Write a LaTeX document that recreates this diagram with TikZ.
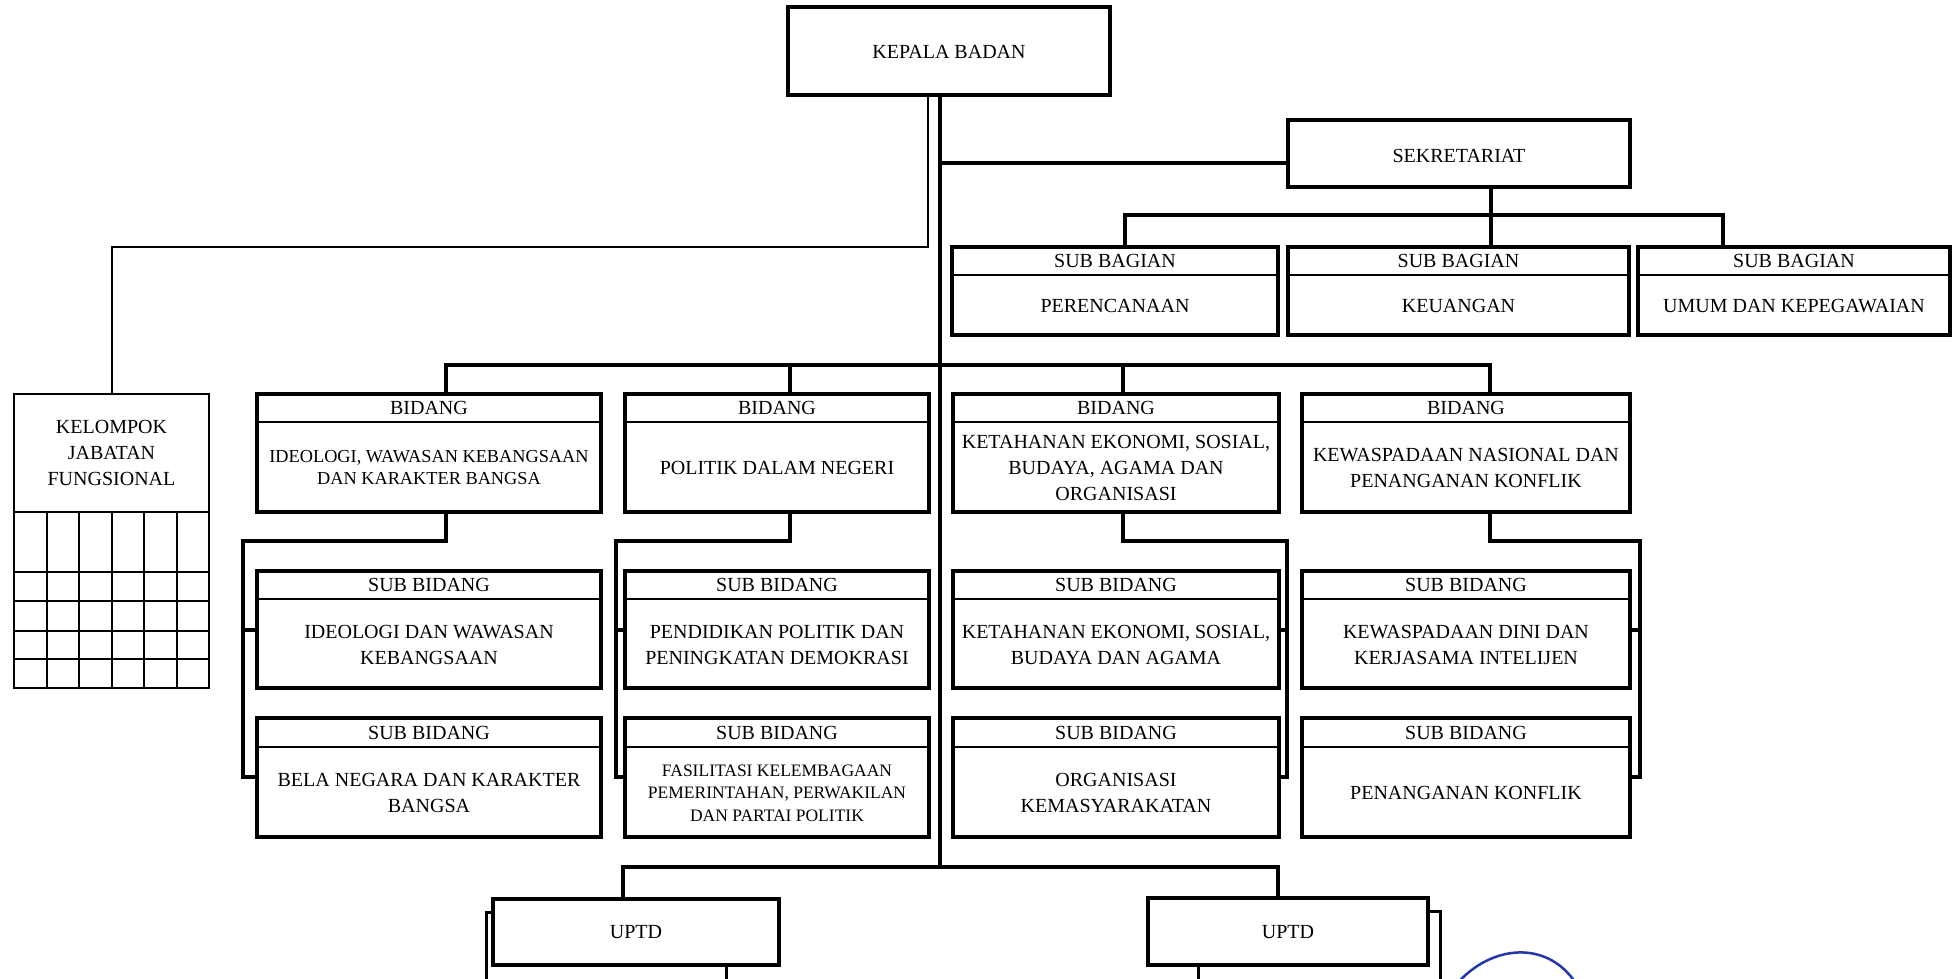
\documentclass[tikz,border=0pt]{standalone}
\usepackage{fontspec}
\setmainfont{Liberation Serif}
\definecolor{stampblue}{RGB}{35,55,170}
\newcommand\orgbox[9]{%
  \pgfmathsetmacro\cxx{(#2+#4)/2}%
  \pgfmathsetmacro\ww{#4-#2}%
  \pgfmathsetmacro\hh{#5-#3}%
  \node[box, minimum width=\ww pt, minimum height=\hh pt, anchor=north west] (#1) at (#2,#3) {};
  \draw[divline] (#2,#6) -- (#4,#6);
  \node[txt] (#1-h) at ({\cxx},{(#3+#6)/2}) {#7};
  \node[txt,#9] (#1-b) at ({\cxx},{(#6+#5)/2+1}) {#8};
}
\begin{document}
\begin{tikzpicture}[x=1pt,y=-1pt,
  box/.style={draw, line width=4.5pt, inner sep=0pt, outer sep=0pt, fill=white},
  plainbox/.style={draw, line width=4pt, inner sep=0pt, outer sep=0pt, fill=white},
  backbox/.style={draw, line width=3pt},
  thinbox/.style={draw, line width=2pt, inner sep=0pt, outer sep=0pt},
  divline/.style={line width=2.5pt},
  gridline/.style={line width=2pt},
  conn/.style={line width=4pt, line join=miter},
  thinconn/.style={line width=2pt, line join=miter},
  txt/.style={font=\fontsize{20}{26}\selectfont, align=center, inner sep=0pt},
  smalltxt/.style={font=\fontsize{18.3}{22}\selectfont},
  smallertxt/.style={font=\fontsize{17.5}{22.5}\selectfont},
  normaltxt/.style={},
]
\useasboundingbox (0,0) rectangle (1959,978);
\clip (0,0) rectangle (1959,978);

% ---------- top ----------
\node[plainbox, minimum width=322pt, minimum height=88pt, anchor=north west] (kepala) at (788,7) {};
\node[txt] (kepala-t) at (949,52) {KEPALA BADAN};

\node[plainbox, minimum width=342pt, minimum height=67pt, anchor=north west] (sek) at (1288,120) {};
\node[txt] (sek-t) at (1459,156) {SEKRETARIAT};

% sub bagian
\orgbox{sbg1}{952}{247}{1278}{335}{275}{SUB BAGIAN}{PERENCANAAN}{normaltxt}
\orgbox{sbg2}{1288}{247}{1629}{335}{275}{SUB BAGIAN}{KEUANGAN}{normaltxt}
\orgbox{sbg3}{1638}{247}{1950}{335}{275}{SUB BAGIAN}{UMUM DAN KEPEGAWAIAN}{normaltxt}

% bidang
\orgbox{bid1}{257}{394}{601}{512}{422}{BIDANG}{IDEOLOGI, WAWASAN KEBANGSAAN\\DAN KARAKTER BANGSA}{smalltxt}
\orgbox{bid2}{625}{394}{929}{512}{422}{BIDANG}{POLITIK DALAM NEGERI}{normaltxt}
\orgbox{bid3}{953}{394}{1279}{512}{422}{BIDANG}{KETAHANAN EKONOMI, SOSIAL,\\BUDAYA, AGAMA DAN\\ORGANISASI}{normaltxt}
\orgbox{bid4}{1302}{394}{1630}{512}{422}{BIDANG}{KEWASPADAAN NASIONAL DAN\\PENANGANAN KONFLIK}{normaltxt}

% sub bidang row 1
\orgbox{s11}{257}{571}{601}{688}{599}{SUB BIDANG}{IDEOLOGI DAN WAWASAN\\KEBANGSAAN}{normaltxt}
\orgbox{s21}{625}{571}{929}{688}{599}{SUB BIDANG}{PENDIDIKAN POLITIK DAN\\PENINGKATAN DEMOKRASI}{normaltxt}
\orgbox{s31}{953}{571}{1279}{688}{599}{SUB BIDANG}{KETAHANAN EKONOMI, SOSIAL,\\BUDAYA DAN AGAMA}{normaltxt}
\orgbox{s41}{1302}{571}{1630}{688}{599}{SUB BIDANG}{KEWASPADAAN DINI DAN\\KERJASAMA INTELIJEN}{normaltxt}

% sub bidang row 2
\orgbox{s12}{257}{718}{601}{837}{747}{SUB BIDANG}{BELA NEGARA DAN KARAKTER\\BANGSA}{normaltxt}
\orgbox{s22}{625}{718}{929}{837}{747}{SUB BIDANG}{FASILITASI KELEMBAGAAN\\PEMERINTAHAN, PERWAKILAN\\DAN PARTAI POLITIK}{smallertxt}
\orgbox{s32}{953}{718}{1279}{837}{747}{SUB BIDANG}{ORGANISASI\\KEMASYARAKATAN}{normaltxt}
\orgbox{s42}{1302}{718}{1630}{837}{747}{SUB BIDANG}{PENANGANAN KONFLIK}{normaltxt}

% kelompok jabatan fungsional
\node[thinbox, minimum width=195pt, minimum height=294pt, anchor=north west] (kjf) at (14,394) {};
\node[txt] (kjf-t) at (111.5,453) {KELOMPOK\\JABATAN\\FUNGSIONAL};
\draw[gridline] (14,512) -- (209,512);
\foreach \gy in {572,601,631,659} \draw[gridline] (14,\gy) -- (209,\gy);
\foreach \gx in {47,79,112,144,177} \draw[gridline] (\gx,512) -- (\gx,688);

% UPTD (stacked boxes)
\draw[backbox] (486,1010) -- (486,912) -- (726,912) -- (726,1010);
\draw[backbox] (1198,1010) -- (1198,911) -- (1440,911) -- (1440,1010);
\node[plainbox, minimum width=286pt, minimum height=66pt, anchor=north west] (uptd1) at (493,899) {};
\node[txt] (uptd1-t) at (636,932) {UPTD};
\node[plainbox, minimum width=280pt, minimum height=67pt, anchor=north west] (uptd2) at (1148,898) {};
\node[txt] (uptd2-t) at (1288,932) {UPTD};

% ---------- connector coordinates ----------
\coordinate (spine) at (940,0);
\coordinate (bottomj) at (940,867);
\coordinate (thinA) at (928,247);
\coordinate (thinB) at (112,247);
\coordinate (sekj) at (940,163);
\coordinate (sbj) at (1491,215);
\coordinate (sbgL) at (1125,215);
\coordinate (sbgR) at (1723,215);
\coordinate (bjL) at (446,365);
\coordinate (bj2) at (790,365);
\coordinate (bj3) at (1123,365);
\coordinate (bjR) at (1490,365);
\coordinate (k1a) at (446,541);  \coordinate (k1b) at (243,541);  \coordinate (k1c) at (243,777);  \coordinate (k1m) at (243,630);
\coordinate (k2a) at (790,541);  \coordinate (k2b) at (616,541);  \coordinate (k2c) at (616,777);  \coordinate (k2m) at (616,630);
\coordinate (k3a) at (1123,541); \coordinate (k3b) at (1287,541); \coordinate (k3c) at (1287,777); \coordinate (k3m) at (1287,630);
\coordinate (k4a) at (1490,541); \coordinate (k4b) at (1640,541); \coordinate (k4c) at (1640,777); \coordinate (k4m) at (1640,630);
\coordinate (ujL) at (623,867);
\coordinate (ujR) at (1278,867);

% ---------- connectors ----------
\draw[conn] (kepala.south -| spine) -- (spine |- bottomj);
\draw[thinconn] (kepala.south -| thinA) -- (thinA) -- (thinB) -- (thinB |- kjf.north);
\draw[conn] (sekj) -- (sek.west |- sekj);
\draw[conn] (sek.south -| sbj) -- (sbj |- sbg2.north);
\draw[conn] (sbgL |- sbg1.north) -- (sbgL) -- (sbgR) -- (sbgR |- sbg3.north);

\draw[conn] (bjL |- bid1.north) -- (bjL) -- (bjR) -- (bjR |- bid4.north);
\draw[conn] (bj2) -- (bj2 |- bid2.north);
\draw[conn] (bj3) -- (bj3 |- bid3.north);

\draw[conn] (bid1.south -| k1a) -- (k1a) -- (k1b) -- (k1c) -- (k1c -| s12.west);
\draw[conn] (k1m) -- (k1m -| s11.west);
\draw[conn] (bid2.south -| k2a) -- (k2a) -- (k2b) -- (k2c) -- (k2c -| s22.west);
\draw[conn] (k2m) -- (k2m -| s21.west);
\draw[conn] (bid3.south -| k3a) -- (k3a) -- (k3b) -- (k3c) -- (k3c -| s32.east);
\draw[conn] (k3m) -- (k3m -| s31.east);
\draw[conn] (bid4.south -| k4a) -- (k4a) -- (k4b) -- (k4c) -- (k4c -| s42.east);
\draw[conn] (k4m) -- (k4m -| s41.east);

\draw[conn] (uptd1.north -| ujL) -- (ujL) -- (ujR) -- (ujR |- uptd2.north);

% stamp fragment
\draw[line width=2.5pt, stampblue] (1452,990) .. controls (1485,945) and (1550,935) .. (1580,990);
\end{tikzpicture}
\end{document}
